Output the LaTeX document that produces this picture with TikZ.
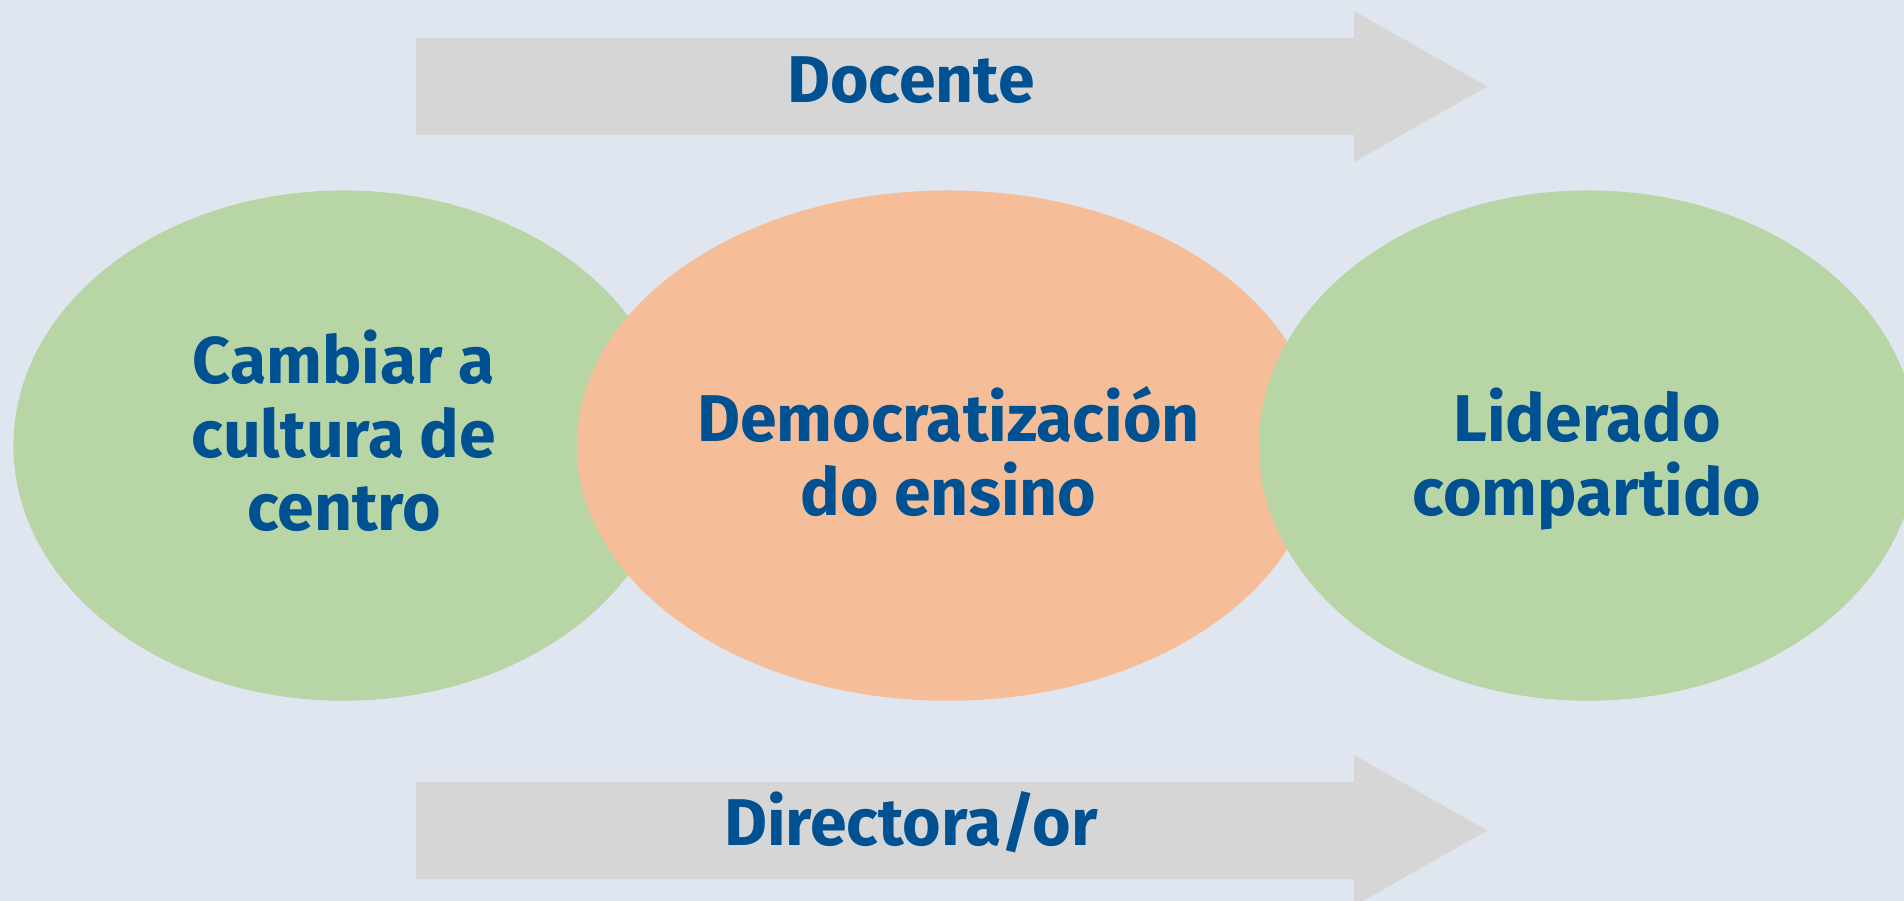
\documentclass[tikz,border=0pt]{standalone}
\usepackage{fontspec}
\setmainfont{Fira Sans}
\usepackage{tikz}
\usetikzlibrary{shapes}

\definecolor{paleblue}{RGB}{223,230,239}
\definecolor{bandgray}{RGB}{214,214,214}
\definecolor{leafgreen}{RGB}{184,214,165}
\definecolor{peach}{RGB}{246,190,152}
\definecolor{inkblue}{RGB}{0,81,145}

\begin{document}
\begin{tikzpicture}[x=0.01cm, y=-0.01cm,
  blob/.style={ellipse, inner sep=0pt, minimum height=5.1cm},
  words/.style={text=inkblue, align=center, inner sep=0pt, anchor=base,
                font=\fontsize{18.8pt}{20.9pt}\selectfont\bfseries},
  band/.style={fill=bandgray}]

% page and background
\fill [paleblue] (0,0) rectangle (1904,901);
\useasboundingbox (0,0) rectangle (1904,901);

% the two grey arrows
\path [band] (416,38) -- (1354,38) -- (1354,11) -- (1487,86.5) -- (1354,162) -- (1354,135) -- (416,135) -- cycle;
\path [band] (416,782) -- (1354,782) -- (1354,755) -- (1487,830.5) -- (1354,906) -- (1354,879) -- (416,879) -- cycle;

% ellipses, drawn left to right so each one covers the one before
\node [blob, fill=leafgreen, minimum width=6.60cm] (cambio)   at (343.6,445.6) {};
\node [blob, fill=peach    , minimum width=7.42cm] (democ)    at (948,445.6)   {};
\node [blob, fill=leafgreen, minimum width=6.58cm] (lideres)  at (1588,445.6)  {};

\node [words] (docente)  at (911,102.5) {Docente};
\node [words] (director) at (911,845)   {Directora/or};

% base anchor of a multi-line node sits on its last line
\node [words] (cambiotxt)  at (344,531)     {Cambiar a\\cultura de\\centro};
\node [words] (democtxt)   at (948.5,515.5) {Democratización\\do ensino};
\node [words] (liderestxt) at (1587,515.5)  {Liderado\\compartido};

\end{tikzpicture}
\end{document}
